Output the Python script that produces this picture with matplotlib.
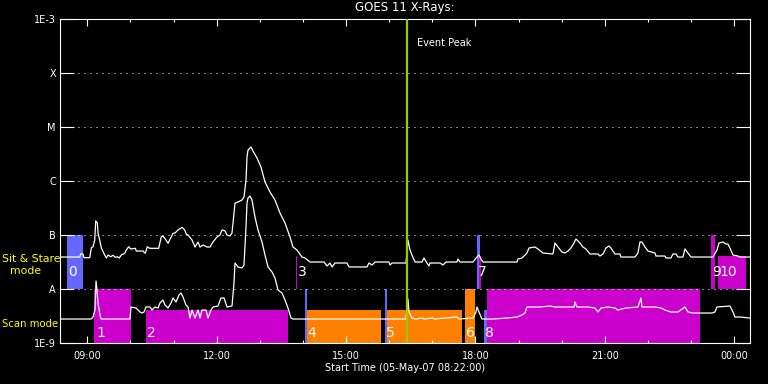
import matplotlib
matplotlib.use("Agg")
import matplotlib.pyplot as plt
from matplotlib.ticker import FixedLocator, FixedFormatter, NullLocator

# ---------------- data ----------------
t_start = 8 + 22 / 60.0          # 05-May-07 08:22:00
t_span = 16.0                    # hours shown
t_peak = 16.413                  # event peak time (hours)

# long channel (1-8 A), time in hours of day, flux W/m^2
t_long = [8.383, 8.824, 8.847, 8.900, 8.923, 9.056, 9.093, 9.132, 9.172, 9.195,
          9.232, 9.248, 9.287, 9.325, 9.403, 9.441, 9.480, 9.543, 9.596, 9.649,
          9.696, 9.742, 9.788, 9.867, 9.904, 9.960, 10.006, 10.113, 10.136, 10.291,
          10.345, 10.391, 10.447, 10.655, 10.716, 10.755, 10.808, 10.871, 10.948, 10.987,
          11.040, 11.103, 11.165, 11.196, 11.258, 11.295, 11.335, 11.428, 11.497, 11.567,
          11.613, 11.683, 11.775, 11.845, 11.914, 12.007, 12.077, 12.123, 12.193, 12.239,
          12.309, 12.355, 12.425, 12.494, 12.587, 12.633, 12.680, 12.703, 12.726, 12.795,
          12.842, 12.935, 13.027, 13.120, 13.236, 13.352, 13.468, 13.584, 13.700, 13.769,
          13.862, 13.978, 14.048, 14.164, 14.488, 14.558, 14.627, 14.674, 14.743, 15.021,
          15.068, 15.485, 15.531, 15.601, 15.671, 15.995, 16.018, 16.065, 16.389, 16.436,
          16.482, 16.528, 16.598, 16.760, 16.807, 16.876, 16.923, 16.946, 17.178, 17.247,
          17.317, 17.572, 17.595, 17.641, 17.943, 18.035, 18.082, 18.128, 18.175, 18.963,
          18.986, 19.079, 19.195, 19.241, 19.380, 19.450, 19.566, 19.798, 19.844, 19.914,
          20.006, 20.076, 20.145, 20.215, 20.285, 20.331, 20.424, 20.493, 20.563, 20.656,
          20.841, 20.887, 20.957, 21.027, 21.096, 21.142, 21.235, 21.351, 21.374, 21.699,
          21.768, 21.815, 21.861, 21.931, 22.001, 22.163, 22.186, 22.395, 22.418, 22.534,
          22.580, 22.650, 22.696, 22.812, 22.858, 22.928, 22.998, 23.508, 23.601, 23.647,
          23.740, 23.809, 23.856, 23.902, 23.972, 24.087, 24.133, 24.365]
f_long = [3.91e-8, 3.91e-8, 4.45e-8, 4.45e-8, 3.80e-8, 3.80e-8, 5.74e-8, 6.07e-8, 8.08e-8, 1.82e-7,
          1.67e-7, 1.09e-7, 8.08e-8, 5.74e-8, 4.26e-8, 3.75e-8, 4.26e-8, 3.96e-8, 4.21e-8, 3.86e-8,
          3.96e-8, 3.75e-8, 4.26e-8, 4.58e-8, 5.27e-8, 6.07e-8, 5.51e-8, 5.67e-8, 5.05e-8, 5.05e-8,
          4.58e-8, 6.07e-8, 5.67e-8, 5.67e-8, 9.30e-8, 9.58e-8, 8.43e-8, 7.02e-8, 9.30e-8, 1.07e-7,
          1.10e-7, 1.24e-7, 1.33e-7, 1.39e-7, 1.24e-7, 1.03e-7, 1.00e-7, 8.08e-8, 5.99e-8, 7.42e-8,
          5.99e-8, 6.53e-8, 5.99e-8, 5.99e-8, 7.42e-8, 9.18e-8, 1.00e-7, 1.24e-7, 1.19e-7, 1.00e-7,
          9.58e-8, 1.09e-7, 3.91e-7, 4.08e-7, 4.45e-7, 5.05e-7, 1.04e-6, 2.78e-6, 3.75e-6, 4.26e-6,
          3.59e-6, 2.67e-6, 1.82e-6, 9.58e-7, 6.26e-7, 4.45e-7, 2.55e-7, 1.67e-7, 9.18e-8, 5.99e-8,
          5.27e-8, 3.91e-8, 3.75e-8, 3.16e-8, 3.16e-8, 2.67e-8, 3.03e-8, 2.56e-8, 3.03e-8, 3.03e-8,
          2.56e-8, 2.56e-8, 3.03e-8, 2.78e-8, 3.16e-8, 3.16e-8, 2.78e-8, 3.03e-8, 3.03e-8, 8.08e-8,
          5.27e-8, 4.26e-8, 3.16e-8, 3.16e-8, 3.75e-8, 3.03e-8, 2.67e-8, 3.03e-8, 3.03e-8, 2.78e-8,
          3.16e-8, 3.16e-8, 3.59e-8, 3.16e-8, 3.16e-8, 3.91e-8, 4.26e-8, 3.59e-8, 3.16e-8, 3.16e-8,
          3.59e-8, 3.75e-8, 4.64e-8, 5.74e-8, 5.99e-8, 5.51e-8, 4.64e-8, 4.45e-8, 7.11e-8, 5.99e-8,
          4.84e-8, 4.64e-8, 5.05e-8, 5.74e-8, 7.11e-8, 8.43e-8, 7.11e-8, 5.99e-8, 5.51e-8, 4.45e-8,
          4.45e-8, 4.08e-8, 4.45e-8, 5.74e-8, 6.26e-8, 5.74e-8, 4.45e-8, 4.45e-8, 3.91e-8, 3.91e-8,
          4.64e-8, 7.42e-8, 7.42e-8, 5.99e-8, 5.05e-8, 4.64e-8, 4.08e-8, 4.08e-8, 3.75e-8, 3.75e-8,
          4.45e-8, 4.45e-8, 3.91e-8, 3.91e-8, 5.51e-8, 4.64e-8, 3.91e-8, 3.91e-8, 5.27e-8, 7.11e-8,
          7.42e-8, 6.81e-8, 6.81e-8, 5.74e-8, 4.26e-8, 4.08e-8, 3.91e-8, 3.91e-8]

# short channel (0.5-4 A)
t_short = [8.383, 9.086, 9.132, 9.178, 9.202, 9.225, 9.248, 9.294, 9.318, 9.990,
           10.013, 10.129, 10.222, 10.268, 10.315, 10.361, 10.454, 10.500, 10.570, 10.639,
           10.686, 10.755, 10.802, 10.871, 10.941, 10.987, 11.057, 11.126, 11.173, 11.219,
           11.288, 11.335, 11.381, 11.428, 11.497, 11.567, 11.613, 11.659, 11.752, 11.799,
           11.868, 11.914, 12.030, 12.100, 12.170, 12.239, 12.355, 12.401, 12.425, 12.494,
           12.587, 12.633, 12.680, 12.703, 12.726, 12.772, 12.819, 12.888, 12.958, 13.051,
           13.120, 13.190, 13.282, 13.352, 13.422, 13.514, 13.584, 13.653, 13.723, 13.769,
           16.389, 16.436, 16.459, 16.528, 16.598, 16.784, 16.807, 17.015, 17.039, 17.572,
           17.618, 17.943, 18.012, 18.035, 18.082, 18.151, 18.407, 18.731, 18.963, 19.079,
           19.148, 19.195, 19.496, 19.728, 19.844, 20.145, 20.285, 20.308, 20.354, 20.609,
           20.772, 20.841, 20.911, 21.073, 21.235, 21.305, 21.490, 21.768, 21.838, 21.861,
           22.163, 22.302, 22.395, 22.534, 22.696, 22.858, 22.928, 23.044, 23.276, 23.485,
           23.554, 23.601, 23.902, 23.972, 24.018, 24.133, 24.365]
f_short = [2.78e-9, 2.78e-9, 3.03e-9, 4.08e-9, 1.41e-8, 9.58e-9, 5.51e-9, 3.30e-9, 2.78e-9, 2.78e-9,
           4.64e-9, 4.45e-9, 3.75e-9, 3.59e-9, 3.75e-9, 4.64e-9, 4.64e-9, 4.08e-9, 4.64e-9, 4.45e-9,
           5.51e-9, 6.26e-9, 5.05e-9, 4.45e-9, 5.51e-9, 6.81e-9, 5.74e-9, 7.74e-9, 8.43e-9, 7.11e-9,
           5.05e-9, 4.64e-9, 2.90e-9, 4.08e-9, 2.90e-9, 4.08e-9, 2.90e-9, 4.08e-9, 4.08e-9, 2.90e-9,
           4.08e-9, 4.64e-9, 4.84e-9, 6.81e-9, 6.81e-9, 4.64e-9, 4.84e-9, 1.29e-8, 3.03e-8, 2.56e-8,
           2.45e-8, 2.78e-8, 1.41e-7, 3.91e-7, 4.84e-7, 5.27e-7, 4.45e-7, 2.15e-7, 1.24e-7, 7.42e-8,
           4.26e-8, 2.56e-8, 2.07e-8, 1.60e-8, 9.58e-9, 8.43e-9, 6.26e-9, 4.45e-9, 2.90e-9, 2.78e-9,
           2.78e-9, 6.53e-9, 3.75e-9, 2.90e-9, 2.78e-9, 2.90e-9, 2.78e-9, 2.90e-9, 2.78e-9, 3.03e-9,
           2.78e-9, 2.90e-9, 3.75e-9, 4.64e-9, 3.75e-9, 2.78e-9, 2.78e-9, 2.90e-9, 3.03e-9, 3.30e-9,
           3.59e-9, 4.64e-9, 4.64e-9, 4.84e-9, 4.64e-9, 4.64e-9, 4.64e-9, 5.74e-9, 4.64e-9, 4.64e-9,
           4.45e-9, 3.75e-9, 4.45e-9, 4.64e-9, 4.45e-9, 4.08e-9, 4.45e-9, 4.64e-9, 6.81e-9, 4.64e-9,
           4.64e-9, 4.45e-9, 4.08e-9, 3.75e-9, 3.75e-9, 4.64e-9, 3.75e-9, 3.59e-9, 3.59e-9, 3.59e-9,
           3.75e-9, 4.64e-9, 4.84e-9, 3.75e-9, 3.03e-9, 3.03e-9, 2.90e-9]

# observing-mode segments
seg_start  = [8.529, 9.155, 10.361, 13.832, 14.048, 14.087, 15.895, 15.949, 17.757,
              18.028, 18.082, 18.198, 18.267, 23.462, 23.617]
seg_end    = [8.900, 10.006, 13.646, 13.867, 14.087, 15.810, 15.949, 17.681, 17.989,
              18.105, 18.121, 18.267, 23.206, 23.554, 24.273]
seg_bottom = [1e-8, 1e-9, 1e-9, 1e-8, 1e-9, 1e-9, 1e-9, 1e-9, 1e-9,
              1e-8, 1e-8, 1e-9, 1e-9, 1e-8, 1e-8]
seg_top    = [1e-7, 1e-8, 4.1e-9, 4.1e-8, 1e-8, 4.1e-9, 1e-8, 4.1e-9, 1e-8,
              1e-7, 4.1e-8, 4.1e-9, 1e-8, 1e-7, 4.1e-8]
seg_color  = ["#6666ff", "#cc00cc", "#cc00cc", "#cc00cc", "#6666ff", "#ff8000", "#6666ff",
              "#ff8000", "#ff8000", "#6666ff", "#cc00cc", "#6666ff", "#cc00cc", "#cc00cc", "#cc00cc"]

seg_labels  = ["0", "1", "2", "3", "4", "5", "6", "7", "8", "9", "10"]
seg_label_t = [8.552, 9.202, 10.384, 13.885, 14.094, 15.926, 17.780, 18.059, 18.221, 23.480, 23.668]
seg_label_f = [2.07e-8, 1.53e-9, 1.53e-9, 2.07e-8, 1.53e-9, 1.53e-9, 1.53e-9, 2.07e-8, 1.53e-9,
               2.07e-8, 2.07e-8]

y_ticks = [1e-9, 1e-8, 1e-7, 1e-6, 1e-5, 1e-4, 1e-3]
y_labels = ["1E-9", "A", "B", "C", "M", "X", "1E-3"]
x_ticks = [9, 12, 15, 18, 21, 24]
x_labels = ["09:00", "12:00", "15:00", "18:00", "21:00", "00:00"]
x_minor = list(range(9, 25))

# ---------------- figure ----------------
W, H = 768, 384
fig = plt.figure(figsize=(W / 100, H / 100), dpi=100, facecolor="black")
ax = fig.add_axes([60 / W, 41 / H, 690 / W, 324 / H])
ax.set_facecolor("black")
ax.set_yscale("log")
ax.set_ylim(1e-9, 1e-3)
ax.set_xlim(t_start, t_start + t_span)

# mode bars
for s, e, b, t, c in zip(seg_start, seg_end, seg_bottom, seg_top, seg_color):
    ax.bar(s, t - b, bottom=b, width=e - s, align="edge", color=c, linewidth=0, zorder=1)

# dotted grid
for v in y_ticks[1:-1]:
    ax.axhline(v, color="white", lw=0.72, linestyle=(0, (1, 5)), zorder=2)

# curves
ax.plot(t_long, f_long, color="white", lw=0.9, zorder=3)
ax.plot(t_short, f_short, color="white", lw=0.9, zorder=3)

# segment numbers
for lab, tt, ff in zip(seg_labels, seg_label_t, seg_label_f):
    ax.text(tt, ff, lab, color="white", fontsize=10, ha="left", va="center", zorder=4)

# event peak
ax.axvline(t_peak, color="#99cc00", lw=1.6, zorder=5)
ax.annotate("Event Peak", xy=(t_peak, 3.6e-4), xytext=(7, 0), textcoords="offset points",
            color="white", fontsize=7, ha="left", va="center")

# axes styling
for sp in ax.spines.values():
    sp.set_color("white")
    sp.set_linewidth(0.8)
ax.yaxis.set_major_locator(FixedLocator(y_ticks))
ax.yaxis.set_major_formatter(FixedFormatter(y_labels))
ax.yaxis.set_minor_locator(NullLocator())
ax.xaxis.set_major_locator(FixedLocator(x_ticks))
ax.xaxis.set_major_formatter(FixedFormatter(x_labels))
ax.xaxis.set_minor_locator(FixedLocator(x_minor))
ax.tick_params(axis="y", which="major", direction="in", length=10, width=0.8,
               colors="white", labelsize=7, left=True, right=True, pad=3)
ax.tick_params(axis="x", which="major", direction="in", length=5, width=0.8,
               colors="white", labelsize=7, top=True, bottom=True, pad=6)
ax.tick_params(axis="x", which="minor", direction="in", length=2.5, width=0.8,
               colors="white", top=True, bottom=True)

# texts
fig.text(405 / W, 1 - 8 / H, "GOES 11 X-Rays:", color="white", fontsize=8.5, ha="center", va="center")
fig.text(405 / W, 1 - 368 / H, "Start Time (05-May-07 08:22:00)", color="white", fontsize=7,
         ha="center", va="center")
fig.text(2 / W, 1 - 259 / H, "Sit & Stare", color="yellow", fontsize=7.8, ha="left", va="center", zorder=10)
fig.text(26 / W, 1 - 271 / H, "mode", color="yellow", fontsize=7.8, ha="center", va="center", zorder=10)
fig.text(2 / W, 1 - 324 / H, "Scan mode", color="yellow", fontsize=7.3, ha="left", va="center", zorder=10)

fig.savefig("out.png", dpi=100, facecolor="black")
